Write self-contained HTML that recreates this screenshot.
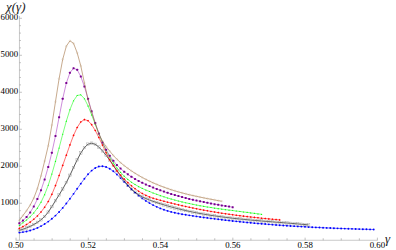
<!DOCTYPE html>
<html><head><meta charset="utf-8"><title>chart</title>
<style>
html,body{margin:0;padding:0;background:#fff;}
body{width:396px;height:250px;overflow:hidden;}
svg{display:block;font-family:"Liberation Serif",serif;}
</style></head><body>
<svg width="396" height="250" viewBox="0 0 396 250">
<rect width="396" height="250" fill="#fff"/>
<g>
<path d="M19.45 16.0V240.25" stroke="#909090" stroke-width="0.5" fill="none"/>
<path d="M15.70 240.25H377.70" stroke="#909090" stroke-width="0.5" fill="none"/>
<path d="M16.00 240.25v-2.6 M34.07 240.25v-2.0 M52.14 240.25v-2.0 M70.21 240.25v-2.0 M88.28 240.25v-2.6 M106.35 240.25v-2.0 M124.42 240.25v-2.0 M142.49 240.25v-2.0 M160.56 240.25v-2.6 M178.63 240.25v-2.0 M196.70 240.25v-2.0 M214.77 240.25v-2.0 M232.84 240.25v-2.6 M250.91 240.25v-2.0 M268.98 240.25v-2.0 M287.05 240.25v-2.0 M305.12 240.25v-2.6 M323.19 240.25v-2.0 M341.26 240.25v-2.0 M359.33 240.25v-2.0 M377.40 240.25v-2.6 M19.45 232.85h1.5 M19.45 225.45h1.5 M19.45 218.05h1.5 M19.45 210.66h1.5 M19.45 203.26h2.5 M19.45 195.86h1.5 M19.45 188.46h1.5 M19.45 181.06h1.5 M19.45 173.66h1.5 M19.45 166.27h2.5 M19.45 158.87h1.5 M19.45 151.47h1.5 M19.45 144.07h1.5 M19.45 136.67h1.5 M19.45 129.27h2.5 M19.45 121.88h1.5 M19.45 114.48h1.5 M19.45 107.08h1.5 M19.45 99.68h1.5 M19.45 92.28h2.5 M19.45 84.88h1.5 M19.45 77.49h1.5 M19.45 70.09h1.5 M19.45 62.69h1.5 M19.45 55.29h2.5 M19.45 47.89h1.5 M19.45 40.49h1.5 M19.45 33.09h1.5 M19.45 25.70h1.5 M19.45 18.30h2.5" stroke="#909090" stroke-width="0.55" fill="none"/>
</g>

<g fill="#000" font-family="'Liberation Serif',serif" font-size="8.8">
<text x="8.30" y="247.90">0.50</text>
<text x="80.58" y="247.90">0.52</text>
<text x="152.86" y="247.90">0.54</text>
<text x="225.14" y="247.90">0.56</text>
<text x="297.42" y="247.90">0.58</text>
<text x="369.70" y="247.90">0.60</text>
<text x="0.50" y="205.36">1000</text>
<text x="0.50" y="168.37">2000</text>
<text x="0.50" y="131.37">3000</text>
<text x="0.50" y="94.38">4000</text>
<text x="0.50" y="57.39">5000</text>
<text x="0.50" y="20.40">6000</text>
</g>
<text x="6" y="10.5" font-family="'Liberation Serif',serif" font-size="13" font-style="italic" fill="#1a1a1a">χ(γ)</text>
<text x="385" y="243" font-family="'Liberation Serif',serif" font-size="13" font-style="italic" fill="#1a1a1a">γ</text>
<polyline fill="none" stroke="#0000ff" stroke-width="0.9" stroke-opacity="0.62" stroke-linejoin="round" points="19.32,232.60 22.94,232.12 26.55,231.44 30.17,230.52 33.78,229.34 37.40,227.88 41.02,226.12 44.63,224.04 48.25,221.60 51.86,218.79 55.48,215.59 59.10,211.96 62.71,207.91 66.33,203.48 69.94,198.77 73.56,193.83 77.18,188.75 80.79,183.64 84.41,178.74 88.02,174.31 91.64,170.62 95.26,167.95 98.87,166.50 102.49,166.23 106.10,167.01 109.72,168.73 113.34,171.25 116.95,174.45 120.57,178.09 124.18,181.91 127.80,185.69 131.42,189.29 135.03,192.61 138.65,195.64 142.26,198.39 145.88,200.88 149.50,203.11 153.11,205.10 156.73,206.85 160.34,208.39 163.96,209.72 167.58,210.88 171.19,211.88 174.81,212.75 178.42,213.51 182.04,214.18 185.66,214.78 189.27,215.35 192.89,215.89 196.50,216.41 200.12,216.93 203.74,217.43 207.35,217.91 210.97,218.39 214.58,218.85 218.20,219.29 221.82,219.73 225.43,220.15 229.05,220.57 232.66,220.97 236.28,221.36 239.90,221.73 243.51,222.10 247.13,222.45 250.74,222.80 254.36,223.13 257.98,223.46 261.59,223.77 265.21,224.07 268.82,224.37 272.44,224.65 276.06,224.93 279.67,225.19 283.29,225.45 286.90,225.70 290.52,225.93 294.14,226.17 297.75,226.39 301.37,226.60 304.98,226.81 308.60,227.01 312.22,227.20 315.83,227.38 319.45,227.56 323.06,227.73 326.68,227.89 330.30,228.05 333.91,228.20 337.53,228.35 341.14,228.49 344.76,228.62 348.38,228.75 351.99,228.87 355.61,228.99 359.22,229.10 362.84,229.21 366.46,229.31 370.07,229.41 373.69,229.50"/>
<g fill="#0000ff"><circle cx="19.32" cy="232.60" r="0.95"/><circle cx="22.94" cy="232.12" r="0.95"/><circle cx="26.55" cy="231.44" r="0.95"/><circle cx="30.17" cy="230.52" r="0.95"/><circle cx="33.78" cy="229.34" r="0.95"/><circle cx="37.40" cy="227.88" r="0.95"/><circle cx="41.02" cy="226.12" r="0.95"/><circle cx="44.63" cy="224.04" r="0.95"/><circle cx="48.25" cy="221.60" r="0.95"/><circle cx="51.86" cy="218.79" r="0.95"/><circle cx="55.48" cy="215.59" r="0.95"/><circle cx="59.10" cy="211.96" r="0.95"/><circle cx="62.71" cy="207.91" r="0.95"/><circle cx="66.33" cy="203.48" r="0.95"/><circle cx="69.94" cy="198.77" r="0.95"/><circle cx="73.56" cy="193.83" r="0.95"/><circle cx="77.18" cy="188.75" r="0.95"/><circle cx="80.79" cy="183.64" r="0.95"/><circle cx="84.41" cy="178.74" r="0.95"/><circle cx="88.02" cy="174.31" r="0.95"/><circle cx="91.64" cy="170.62" r="0.95"/><circle cx="95.26" cy="167.95" r="0.95"/><circle cx="98.87" cy="166.50" r="0.95"/><circle cx="102.49" cy="166.23" r="0.95"/><circle cx="106.10" cy="167.01" r="0.95"/><circle cx="109.72" cy="168.73" r="0.95"/><circle cx="113.34" cy="171.25" r="0.95"/><circle cx="116.95" cy="174.45" r="0.95"/><circle cx="120.57" cy="178.09" r="0.95"/><circle cx="124.18" cy="181.91" r="0.95"/><circle cx="127.80" cy="185.69" r="0.95"/><circle cx="131.42" cy="189.29" r="0.95"/><circle cx="135.03" cy="192.61" r="0.95"/><circle cx="138.65" cy="195.64" r="0.95"/><circle cx="142.26" cy="198.39" r="0.95"/><circle cx="145.88" cy="200.88" r="0.95"/><circle cx="149.50" cy="203.11" r="0.95"/><circle cx="153.11" cy="205.10" r="0.95"/><circle cx="156.73" cy="206.85" r="0.95"/><circle cx="160.34" cy="208.39" r="0.95"/><circle cx="163.96" cy="209.72" r="0.95"/><circle cx="167.58" cy="210.88" r="0.95"/><circle cx="171.19" cy="211.88" r="0.95"/><circle cx="174.81" cy="212.75" r="0.95"/><circle cx="178.42" cy="213.51" r="0.95"/><circle cx="182.04" cy="214.18" r="0.95"/><circle cx="185.66" cy="214.78" r="0.95"/><circle cx="189.27" cy="215.35" r="0.95"/><circle cx="192.89" cy="215.89" r="0.95"/><circle cx="196.50" cy="216.41" r="0.95"/><circle cx="200.12" cy="216.93" r="0.95"/><circle cx="203.74" cy="217.43" r="0.95"/><circle cx="207.35" cy="217.91" r="0.95"/><circle cx="210.97" cy="218.39" r="0.95"/><circle cx="214.58" cy="218.85" r="0.95"/><circle cx="218.20" cy="219.29" r="0.95"/><circle cx="221.82" cy="219.73" r="0.95"/><circle cx="225.43" cy="220.15" r="0.95"/><circle cx="229.05" cy="220.57" r="0.95"/><circle cx="232.66" cy="220.97" r="0.95"/><circle cx="236.28" cy="221.36" r="0.95"/><circle cx="239.90" cy="221.73" r="0.95"/><circle cx="243.51" cy="222.10" r="0.95"/><circle cx="247.13" cy="222.45" r="0.95"/><circle cx="250.74" cy="222.80" r="0.95"/><circle cx="254.36" cy="223.13" r="0.95"/><circle cx="257.98" cy="223.46" r="0.95"/><circle cx="261.59" cy="223.77" r="0.95"/><circle cx="265.21" cy="224.07" r="0.95"/><circle cx="268.82" cy="224.37" r="0.95"/><circle cx="272.44" cy="224.65" r="0.95"/><circle cx="276.06" cy="224.93" r="0.95"/><circle cx="279.67" cy="225.19" r="0.95"/><circle cx="283.29" cy="225.45" r="0.95"/><circle cx="286.90" cy="225.70" r="0.95"/><circle cx="290.52" cy="225.93" r="0.95"/><circle cx="294.14" cy="226.17" r="0.95"/><circle cx="297.75" cy="226.39" r="0.95"/><circle cx="301.37" cy="226.60" r="0.95"/><circle cx="304.98" cy="226.81" r="0.95"/><circle cx="308.60" cy="227.01" r="0.95"/><circle cx="312.22" cy="227.20" r="0.95"/><circle cx="315.83" cy="227.38" r="0.95"/><circle cx="319.45" cy="227.56" r="0.95"/><circle cx="323.06" cy="227.73" r="0.95"/><circle cx="326.68" cy="227.89" r="0.95"/><circle cx="330.30" cy="228.05" r="0.95"/><circle cx="333.91" cy="228.20" r="0.95"/><circle cx="337.53" cy="228.35" r="0.95"/><circle cx="341.14" cy="228.49" r="0.95"/><circle cx="344.76" cy="228.62" r="0.95"/><circle cx="348.38" cy="228.75" r="0.95"/><circle cx="351.99" cy="228.87" r="0.95"/><circle cx="355.61" cy="228.99" r="0.95"/><circle cx="359.22" cy="229.10" r="0.95"/><circle cx="362.84" cy="229.21" r="0.95"/><circle cx="366.46" cy="229.31" r="0.95"/><circle cx="370.07" cy="229.41" r="0.95"/><circle cx="373.69" cy="229.50" r="0.95"/></g>
<polyline fill="none" stroke="#000000" stroke-width="0.9" stroke-opacity="0.72" stroke-linejoin="round" points="19.32,230.31 22.94,229.23 26.55,227.93 30.17,226.36 33.78,224.52 37.40,222.35 41.02,219.78 44.63,216.50 48.25,212.10 51.86,206.61 55.48,200.70 59.10,194.88 62.71,188.93 66.33,182.50 69.94,175.27 73.56,167.49 77.18,159.86 80.79,153.02 84.41,147.58 88.02,144.16 91.64,143.19 95.26,144.32 98.87,147.05 102.49,150.86 106.10,155.31 109.72,160.22 113.34,165.39 116.95,170.66 120.57,175.84 124.18,180.76 127.80,185.25 131.42,189.12 135.03,192.27 138.65,194.80 142.26,196.84 145.88,198.54 149.50,200.02 153.11,201.36 156.73,202.59 160.34,203.76 163.96,204.88 167.58,205.94 171.19,206.96 174.81,207.93 178.42,208.85 182.04,209.73 185.66,210.56 189.27,211.35 192.89,212.10 196.50,212.82 200.12,213.50 203.74,214.14 207.35,214.75 210.97,215.32 214.58,215.87 218.20,216.39 221.82,216.88 225.43,217.35 229.05,217.79 232.66,218.22 236.28,218.62 239.90,219.00 243.51,219.37 247.13,219.72 250.74,220.05 254.36,220.38 257.98,220.69 261.59,221.00 265.21,221.30 268.82,221.59 272.44,221.88 276.06,222.16 279.67,222.45 283.29,222.74 286.90,223.03 290.52,223.32 294.14,223.62 297.75,223.93 301.37,224.25 304.98,224.58 308.60,224.92"/>
<g fill="none" stroke="#909090" stroke-opacity="0.9" stroke-width="0.4"><rect x="18.07" y="229.06" width="2.5" height="2.5"/><rect x="21.69" y="227.98" width="2.5" height="2.5"/><rect x="25.30" y="226.68" width="2.5" height="2.5"/><rect x="28.92" y="225.11" width="2.5" height="2.5"/><rect x="32.53" y="223.27" width="2.5" height="2.5"/><rect x="36.15" y="221.10" width="2.5" height="2.5"/><rect x="39.77" y="218.53" width="2.5" height="2.5"/><rect x="43.38" y="215.25" width="2.5" height="2.5"/><rect x="47.00" y="210.85" width="2.5" height="2.5"/><rect x="50.61" y="205.36" width="2.5" height="2.5"/><rect x="54.23" y="199.45" width="2.5" height="2.5"/><rect x="57.85" y="193.63" width="2.5" height="2.5"/><rect x="61.46" y="187.68" width="2.5" height="2.5"/><rect x="65.08" y="181.25" width="2.5" height="2.5"/><rect x="68.69" y="174.02" width="2.5" height="2.5"/><rect x="72.31" y="166.24" width="2.5" height="2.5"/><rect x="75.93" y="158.61" width="2.5" height="2.5"/><rect x="79.54" y="151.77" width="2.5" height="2.5"/><rect x="83.16" y="146.33" width="2.5" height="2.5"/><rect x="86.77" y="142.91" width="2.5" height="2.5"/><rect x="90.39" y="141.94" width="2.5" height="2.5"/><rect x="94.01" y="143.07" width="2.5" height="2.5"/><rect x="97.62" y="145.80" width="2.5" height="2.5"/><rect x="101.24" y="149.61" width="2.5" height="2.5"/><rect x="104.85" y="154.06" width="2.5" height="2.5"/><rect x="108.47" y="158.97" width="2.5" height="2.5"/><rect x="112.09" y="164.14" width="2.5" height="2.5"/><rect x="115.70" y="169.41" width="2.5" height="2.5"/><rect x="119.32" y="174.59" width="2.5" height="2.5"/><rect x="122.93" y="179.51" width="2.5" height="2.5"/><rect x="126.55" y="184.00" width="2.5" height="2.5"/><rect x="130.17" y="187.87" width="2.5" height="2.5"/><rect x="133.78" y="191.02" width="2.5" height="2.5"/><rect x="137.40" y="193.55" width="2.5" height="2.5"/><rect x="141.01" y="195.59" width="2.5" height="2.5"/><rect x="144.63" y="197.29" width="2.5" height="2.5"/><rect x="148.25" y="198.77" width="2.5" height="2.5"/><rect x="151.86" y="200.11" width="2.5" height="2.5"/><rect x="155.48" y="201.34" width="2.5" height="2.5"/><rect x="159.09" y="202.51" width="2.5" height="2.5"/><rect x="162.71" y="203.63" width="2.5" height="2.5"/><rect x="166.33" y="204.69" width="2.5" height="2.5"/><rect x="169.94" y="205.71" width="2.5" height="2.5"/><rect x="173.56" y="206.68" width="2.5" height="2.5"/><rect x="177.17" y="207.60" width="2.5" height="2.5"/><rect x="180.79" y="208.48" width="2.5" height="2.5"/><rect x="184.41" y="209.31" width="2.5" height="2.5"/><rect x="188.02" y="210.10" width="2.5" height="2.5"/><rect x="191.64" y="210.85" width="2.5" height="2.5"/><rect x="195.25" y="211.57" width="2.5" height="2.5"/><rect x="198.87" y="212.25" width="2.5" height="2.5"/><rect x="202.49" y="212.89" width="2.5" height="2.5"/><rect x="206.10" y="213.50" width="2.5" height="2.5"/><rect x="209.72" y="214.07" width="2.5" height="2.5"/><rect x="213.33" y="214.62" width="2.5" height="2.5"/><rect x="216.95" y="215.14" width="2.5" height="2.5"/><rect x="220.57" y="215.63" width="2.5" height="2.5"/><rect x="224.18" y="216.10" width="2.5" height="2.5"/><rect x="227.80" y="216.54" width="2.5" height="2.5"/><rect x="231.41" y="216.97" width="2.5" height="2.5"/><rect x="235.03" y="217.37" width="2.5" height="2.5"/><rect x="238.65" y="217.75" width="2.5" height="2.5"/><rect x="242.26" y="218.12" width="2.5" height="2.5"/><rect x="245.88" y="218.47" width="2.5" height="2.5"/><rect x="249.49" y="218.80" width="2.5" height="2.5"/><rect x="253.11" y="219.13" width="2.5" height="2.5"/><rect x="256.73" y="219.44" width="2.5" height="2.5"/><rect x="260.34" y="219.75" width="2.5" height="2.5"/><rect x="263.96" y="220.05" width="2.5" height="2.5"/><rect x="267.57" y="220.34" width="2.5" height="2.5"/><rect x="271.19" y="220.63" width="2.5" height="2.5"/><rect x="274.81" y="220.91" width="2.5" height="2.5"/><rect x="278.42" y="221.20" width="2.5" height="2.5"/><rect x="282.04" y="221.49" width="2.5" height="2.5"/><rect x="285.65" y="221.78" width="2.5" height="2.5"/><rect x="289.27" y="222.07" width="2.5" height="2.5"/><rect x="292.89" y="222.37" width="2.5" height="2.5"/><rect x="296.50" y="222.68" width="2.5" height="2.5"/><rect x="300.12" y="223.00" width="2.5" height="2.5"/><rect x="303.73" y="223.33" width="2.5" height="2.5"/><rect x="307.35" y="223.67" width="2.5" height="2.5"/></g>
<polyline fill="none" stroke="#ff0000" stroke-width="0.9" stroke-opacity="0.62" stroke-linejoin="round" points="19.32,228.41 22.94,226.61 26.55,224.54 30.17,222.12 33.78,219.28 37.40,215.93 41.02,211.98 44.63,207.27 48.25,201.51 51.86,194.37 55.48,185.59 59.10,175.57 62.71,165.38 66.33,155.14 69.94,144.90 73.56,135.37 77.18,127.44 80.79,121.96 84.41,119.60 88.02,120.73 91.64,124.67 95.26,130.49 98.87,137.50 102.49,145.12 106.10,152.75 109.72,159.80 113.34,165.82 116.95,170.90 120.57,175.25 124.18,179.08 127.80,182.59 131.42,185.79 135.03,188.68 138.65,191.25 142.26,193.49 145.88,195.39 149.50,196.94 153.11,198.22 156.73,199.31 160.34,200.30 163.96,201.25 167.58,202.18 171.19,203.09 174.81,203.97 178.42,204.83 182.04,205.67 185.66,206.48 189.27,207.26 192.89,208.02 196.50,208.75 200.12,209.46 203.74,210.14 207.35,210.80 210.97,211.43 214.58,212.04 218.20,212.62 221.82,213.19 225.43,213.73 229.05,214.26 232.66,214.76 236.28,215.25 239.90,215.71 243.51,216.17 247.13,216.60 250.74,217.02 254.36,217.42 257.98,217.81 261.59,218.19 265.21,218.55 268.82,218.90 272.44,219.24 276.06,219.57 279.67,219.89"/>
<g fill="#ff0000"><path d="M19.32 227.36L20.37 228.41L19.32 229.46L18.27 228.41Z"/><path d="M22.94 225.56L23.99 226.61L22.94 227.66L21.89 226.61Z"/><path d="M26.55 223.49L27.60 224.54L26.55 225.59L25.50 224.54Z"/><path d="M30.17 221.07L31.22 222.12L30.17 223.17L29.12 222.12Z"/><path d="M33.78 218.23L34.83 219.28L33.78 220.33L32.73 219.28Z"/><path d="M37.40 214.88L38.45 215.93L37.40 216.98L36.35 215.93Z"/><path d="M41.02 210.93L42.07 211.98L41.02 213.03L39.97 211.98Z"/><path d="M44.63 206.22L45.68 207.27L44.63 208.32L43.58 207.27Z"/><path d="M48.25 200.46L49.30 201.51L48.25 202.56L47.20 201.51Z"/><path d="M51.86 193.32L52.91 194.37L51.86 195.42L50.81 194.37Z"/><path d="M55.48 184.54L56.53 185.59L55.48 186.64L54.43 185.59Z"/><path d="M59.10 174.52L60.15 175.57L59.10 176.62L58.05 175.57Z"/><path d="M62.71 164.33L63.76 165.38L62.71 166.43L61.66 165.38Z"/><path d="M66.33 154.09L67.38 155.14L66.33 156.19L65.28 155.14Z"/><path d="M69.94 143.85L70.99 144.90L69.94 145.95L68.89 144.90Z"/><path d="M73.56 134.32L74.61 135.37L73.56 136.42L72.51 135.37Z"/><path d="M77.18 126.39L78.23 127.44L77.18 128.49L76.13 127.44Z"/><path d="M80.79 120.91L81.84 121.96L80.79 123.01L79.74 121.96Z"/><path d="M84.41 118.55L85.46 119.60L84.41 120.65L83.36 119.60Z"/><path d="M88.02 119.68L89.07 120.73L88.02 121.78L86.97 120.73Z"/><path d="M91.64 123.62L92.69 124.67L91.64 125.72L90.59 124.67Z"/><path d="M95.26 129.44L96.31 130.49L95.26 131.54L94.21 130.49Z"/><path d="M98.87 136.45L99.92 137.50L98.87 138.55L97.82 137.50Z"/><path d="M102.49 144.07L103.54 145.12L102.49 146.17L101.44 145.12Z"/><path d="M106.10 151.70L107.15 152.75L106.10 153.80L105.05 152.75Z"/><path d="M109.72 158.75L110.77 159.80L109.72 160.85L108.67 159.80Z"/><path d="M113.34 164.77L114.39 165.82L113.34 166.87L112.29 165.82Z"/><path d="M116.95 169.85L118.00 170.90L116.95 171.95L115.90 170.90Z"/><path d="M120.57 174.20L121.62 175.25L120.57 176.30L119.52 175.25Z"/><path d="M124.18 178.03L125.23 179.08L124.18 180.13L123.13 179.08Z"/><path d="M127.80 181.54L128.85 182.59L127.80 183.64L126.75 182.59Z"/><path d="M131.42 184.74L132.47 185.79L131.42 186.84L130.37 185.79Z"/><path d="M135.03 187.63L136.08 188.68L135.03 189.73L133.98 188.68Z"/><path d="M138.65 190.20L139.70 191.25L138.65 192.30L137.60 191.25Z"/><path d="M142.26 192.44L143.31 193.49L142.26 194.54L141.21 193.49Z"/><path d="M145.88 194.34L146.93 195.39L145.88 196.44L144.83 195.39Z"/><path d="M149.50 195.89L150.55 196.94L149.50 197.99L148.45 196.94Z"/><path d="M153.11 197.17L154.16 198.22L153.11 199.27L152.06 198.22Z"/><path d="M156.73 198.26L157.78 199.31L156.73 200.36L155.68 199.31Z"/><path d="M160.34 199.25L161.39 200.30L160.34 201.35L159.29 200.30Z"/><path d="M163.96 200.20L165.01 201.25L163.96 202.30L162.91 201.25Z"/><path d="M167.58 201.13L168.63 202.18L167.58 203.23L166.53 202.18Z"/><path d="M171.19 202.04L172.24 203.09L171.19 204.14L170.14 203.09Z"/><path d="M174.81 202.92L175.86 203.97L174.81 205.02L173.76 203.97Z"/><path d="M178.42 203.78L179.47 204.83L178.42 205.88L177.37 204.83Z"/><path d="M182.04 204.62L183.09 205.67L182.04 206.72L180.99 205.67Z"/><path d="M185.66 205.43L186.71 206.48L185.66 207.53L184.61 206.48Z"/><path d="M189.27 206.21L190.32 207.26L189.27 208.31L188.22 207.26Z"/><path d="M192.89 206.97L193.94 208.02L192.89 209.07L191.84 208.02Z"/><path d="M196.50 207.70L197.55 208.75L196.50 209.80L195.45 208.75Z"/><path d="M200.12 208.41L201.17 209.46L200.12 210.51L199.07 209.46Z"/><path d="M203.74 209.09L204.79 210.14L203.74 211.19L202.69 210.14Z"/><path d="M207.35 209.75L208.40 210.80L207.35 211.85L206.30 210.80Z"/><path d="M210.97 210.38L212.02 211.43L210.97 212.48L209.92 211.43Z"/><path d="M214.58 210.99L215.63 212.04L214.58 213.09L213.53 212.04Z"/><path d="M218.20 211.57L219.25 212.62L218.20 213.67L217.15 212.62Z"/><path d="M221.82 212.14L222.87 213.19L221.82 214.24L220.77 213.19Z"/><path d="M225.43 212.68L226.48 213.73L225.43 214.78L224.38 213.73Z"/><path d="M229.05 213.21L230.10 214.26L229.05 215.31L228.00 214.26Z"/><path d="M232.66 213.71L233.71 214.76L232.66 215.81L231.61 214.76Z"/><path d="M236.28 214.20L237.33 215.25L236.28 216.30L235.23 215.25Z"/><path d="M239.90 214.66L240.95 215.71L239.90 216.76L238.85 215.71Z"/><path d="M243.51 215.12L244.56 216.17L243.51 217.22L242.46 216.17Z"/><path d="M247.13 215.55L248.18 216.60L247.13 217.65L246.08 216.60Z"/><path d="M250.74 215.97L251.79 217.02L250.74 218.07L249.69 217.02Z"/><path d="M254.36 216.37L255.41 217.42L254.36 218.47L253.31 217.42Z"/><path d="M257.98 216.76L259.03 217.81L257.98 218.86L256.93 217.81Z"/><path d="M261.59 217.14L262.64 218.19L261.59 219.24L260.54 218.19Z"/><path d="M265.21 217.50L266.26 218.55L265.21 219.60L264.16 218.55Z"/><path d="M268.82 217.85L269.87 218.90L268.82 219.95L267.77 218.90Z"/><path d="M272.44 218.19L273.49 219.24L272.44 220.29L271.39 219.24Z"/><path d="M276.06 218.52L277.11 219.57L276.06 220.62L275.01 219.57Z"/><path d="M279.67 218.84L280.72 219.89L279.67 220.94L278.62 219.89Z"/></g>
<polyline fill="none" stroke="#00ff00" stroke-width="0.9" stroke-opacity="0.58" stroke-linejoin="round" points="19.32,225.51 22.94,222.78 26.55,219.93 30.17,216.72 33.78,212.88 37.40,208.12 41.02,202.14 44.63,194.61 48.25,185.19 51.86,173.96 55.48,161.38 59.10,147.94 62.71,134.22 66.33,121.12 69.94,109.64 73.56,100.77 77.18,95.50 80.79,94.81 84.41,98.70 88.02,105.85 91.64,114.85 95.26,124.38 98.87,133.75 102.49,142.55 106.10,150.37 109.72,157.06 113.34,162.86 116.95,167.93 120.57,172.35 124.18,176.16 127.80,179.42 131.42,182.19 135.03,184.55 138.65,186.58 142.26,188.37 145.88,190.00 149.50,191.53 153.11,192.96 156.73,194.31 160.34,195.59 163.96,196.80 167.58,197.94 171.19,199.01 174.81,200.03 178.42,200.99 182.04,201.89 185.66,202.74 189.27,203.54 192.89,204.30 196.50,205.01 200.12,205.69 203.74,206.33 207.35,206.94 210.97,207.52 214.58,208.07 218.20,208.60 221.82,209.11 225.43,209.60 229.05,210.08 232.66,210.55 236.28,211.01 239.90,211.47 243.51,211.93 247.13,212.39 250.74,212.86 254.36,213.33 257.98,213.82 261.59,214.32"/>
<g fill="#00ff00"><path d="M19.32 224.71L20.12 226.07L18.52 226.07Z"/><path d="M22.94 221.98L23.74 223.34L22.14 223.34Z"/><path d="M26.55 219.13L27.35 220.49L25.75 220.49Z"/><path d="M30.17 215.92L30.97 217.28L29.37 217.28Z"/><path d="M33.78 212.08L34.58 213.44L32.98 213.44Z"/><path d="M37.40 207.32L38.20 208.68L36.60 208.68Z"/><path d="M41.02 201.34L41.82 202.70L40.22 202.70Z"/><path d="M44.63 193.81L45.43 195.17L43.83 195.17Z"/><path d="M48.25 184.39L49.05 185.75L47.45 185.75Z"/><path d="M51.86 173.16L52.66 174.52L51.06 174.52Z"/><path d="M55.48 160.58L56.28 161.94L54.68 161.94Z"/><path d="M59.10 147.14L59.90 148.50L58.30 148.50Z"/><path d="M62.71 133.42L63.51 134.78L61.91 134.78Z"/><path d="M66.33 120.32L67.13 121.68L65.53 121.68Z"/><path d="M69.94 108.84L70.74 110.20L69.14 110.20Z"/><path d="M73.56 99.97L74.36 101.33L72.76 101.33Z"/><path d="M77.18 94.70L77.98 96.06L76.38 96.06Z"/><path d="M80.79 94.01L81.59 95.37L79.99 95.37Z"/><path d="M84.41 97.90L85.21 99.26L83.61 99.26Z"/><path d="M88.02 105.05L88.82 106.41L87.22 106.41Z"/><path d="M91.64 114.05L92.44 115.41L90.84 115.41Z"/><path d="M95.26 123.58L96.06 124.94L94.46 124.94Z"/><path d="M98.87 132.95L99.67 134.31L98.07 134.31Z"/><path d="M102.49 141.75L103.29 143.11L101.69 143.11Z"/><path d="M106.10 149.57L106.90 150.93L105.30 150.93Z"/><path d="M109.72 156.26L110.52 157.62L108.92 157.62Z"/><path d="M113.34 162.06L114.14 163.42L112.54 163.42Z"/><path d="M116.95 167.13L117.75 168.49L116.15 168.49Z"/><path d="M120.57 171.55L121.37 172.91L119.77 172.91Z"/><path d="M124.18 175.36L124.98 176.72L123.38 176.72Z"/><path d="M127.80 178.62L128.60 179.98L127.00 179.98Z"/><path d="M131.42 181.39L132.22 182.75L130.62 182.75Z"/><path d="M135.03 183.75L135.83 185.11L134.23 185.11Z"/><path d="M138.65 185.78L139.45 187.14L137.85 187.14Z"/><path d="M142.26 187.57L143.06 188.93L141.46 188.93Z"/><path d="M145.88 189.20L146.68 190.56L145.08 190.56Z"/><path d="M149.50 190.73L150.30 192.09L148.70 192.09Z"/><path d="M153.11 192.16L153.91 193.52L152.31 193.52Z"/><path d="M156.73 193.51L157.53 194.87L155.93 194.87Z"/><path d="M160.34 194.79L161.14 196.15L159.54 196.15Z"/><path d="M163.96 196.00L164.76 197.36L163.16 197.36Z"/><path d="M167.58 197.14L168.38 198.50L166.78 198.50Z"/><path d="M171.19 198.21L171.99 199.57L170.39 199.57Z"/><path d="M174.81 199.23L175.61 200.59L174.01 200.59Z"/><path d="M178.42 200.19L179.22 201.55L177.62 201.55Z"/><path d="M182.04 201.09L182.84 202.45L181.24 202.45Z"/><path d="M185.66 201.94L186.46 203.30L184.86 203.30Z"/><path d="M189.27 202.74L190.07 204.10L188.47 204.10Z"/><path d="M192.89 203.50L193.69 204.86L192.09 204.86Z"/><path d="M196.50 204.21L197.30 205.57L195.70 205.57Z"/><path d="M200.12 204.89L200.92 206.25L199.32 206.25Z"/><path d="M203.74 205.53L204.54 206.89L202.94 206.89Z"/><path d="M207.35 206.14L208.15 207.50L206.55 207.50Z"/><path d="M210.97 206.72L211.77 208.08L210.17 208.08Z"/><path d="M214.58 207.27L215.38 208.63L213.78 208.63Z"/><path d="M218.20 207.80L219.00 209.16L217.40 209.16Z"/><path d="M221.82 208.31L222.62 209.67L221.02 209.67Z"/><path d="M225.43 208.80L226.23 210.16L224.63 210.16Z"/><path d="M229.05 209.28L229.85 210.64L228.25 210.64Z"/><path d="M232.66 209.75L233.46 211.11L231.86 211.11Z"/><path d="M236.28 210.21L237.08 211.57L235.48 211.57Z"/><path d="M239.90 210.67L240.70 212.03L239.10 212.03Z"/><path d="M243.51 211.13L244.31 212.49L242.71 212.49Z"/><path d="M247.13 211.59L247.93 212.95L246.33 212.95Z"/><path d="M250.74 212.06L251.54 213.42L249.94 213.42Z"/><path d="M254.36 212.53L255.16 213.89L253.56 213.89Z"/><path d="M257.98 213.02L258.78 214.38L257.18 214.38Z"/><path d="M261.59 213.52L262.39 214.88L260.79 214.88Z"/></g>
<polyline fill="none" stroke="#9000b0" stroke-width="0.9" stroke-opacity="0.5" stroke-linejoin="round" points="19.32,223.19 22.94,220.61 26.55,217.06 30.17,212.41 33.78,206.48 37.40,199.12 41.02,190.14 44.63,179.47 48.25,167.00 51.86,152.63 55.48,136.00 59.10,117.26 62.71,98.69 66.33,83.08 69.94,72.67 73.56,68.19 77.18,69.82 80.79,76.47 84.41,86.62 88.02,98.74 91.64,111.33 95.26,123.05 98.87,133.47 102.49,142.40 106.10,149.72 109.72,155.72 113.34,160.76 116.95,165.00 120.57,168.59 124.18,171.67 127.80,174.35 131.42,176.78 135.03,178.98 138.65,180.99 142.26,182.84 145.88,184.54 149.50,186.12 153.11,187.60 156.73,189.01 160.34,190.35 163.96,191.62 167.58,192.83 171.19,193.97 174.81,195.06 178.42,196.10 182.04,197.08 185.66,198.02 189.27,198.91 192.89,199.76 196.50,200.57 200.12,201.34 203.74,202.08 207.35,202.79 210.97,203.48 214.58,204.13 218.20,204.77 221.82,205.39 225.43,205.99 229.05,206.58 232.66,207.17"/>
<g fill="#780090"><rect x="18.32" y="222.19" width="2.0" height="2.0" rx="0.5"/><rect x="21.94" y="219.61" width="2.0" height="2.0" rx="0.5"/><rect x="25.55" y="216.06" width="2.0" height="2.0" rx="0.5"/><rect x="29.17" y="211.41" width="2.0" height="2.0" rx="0.5"/><rect x="32.78" y="205.48" width="2.0" height="2.0" rx="0.5"/><rect x="36.40" y="198.12" width="2.0" height="2.0" rx="0.5"/><rect x="40.02" y="189.14" width="2.0" height="2.0" rx="0.5"/><rect x="43.63" y="178.47" width="2.0" height="2.0" rx="0.5"/><rect x="47.25" y="166.00" width="2.0" height="2.0" rx="0.5"/><rect x="50.86" y="151.63" width="2.0" height="2.0" rx="0.5"/><rect x="54.48" y="135.00" width="2.0" height="2.0" rx="0.5"/><rect x="58.10" y="116.26" width="2.0" height="2.0" rx="0.5"/><rect x="61.71" y="97.69" width="2.0" height="2.0" rx="0.5"/><rect x="65.33" y="82.08" width="2.0" height="2.0" rx="0.5"/><rect x="68.94" y="71.67" width="2.0" height="2.0" rx="0.5"/><rect x="72.56" y="67.19" width="2.0" height="2.0" rx="0.5"/><rect x="76.18" y="68.82" width="2.0" height="2.0" rx="0.5"/><rect x="79.79" y="75.47" width="2.0" height="2.0" rx="0.5"/><rect x="83.41" y="85.62" width="2.0" height="2.0" rx="0.5"/><rect x="87.02" y="97.74" width="2.0" height="2.0" rx="0.5"/><rect x="90.64" y="110.33" width="2.0" height="2.0" rx="0.5"/><rect x="94.26" y="122.05" width="2.0" height="2.0" rx="0.5"/><rect x="97.87" y="132.47" width="2.0" height="2.0" rx="0.5"/><rect x="101.49" y="141.40" width="2.0" height="2.0" rx="0.5"/><rect x="105.10" y="148.72" width="2.0" height="2.0" rx="0.5"/><rect x="108.72" y="154.72" width="2.0" height="2.0" rx="0.5"/><rect x="112.34" y="159.76" width="2.0" height="2.0" rx="0.5"/><rect x="115.95" y="164.00" width="2.0" height="2.0" rx="0.5"/><rect x="119.57" y="167.59" width="2.0" height="2.0" rx="0.5"/><rect x="123.18" y="170.67" width="2.0" height="2.0" rx="0.5"/><rect x="126.80" y="173.35" width="2.0" height="2.0" rx="0.5"/><rect x="130.42" y="175.78" width="2.0" height="2.0" rx="0.5"/><rect x="134.03" y="177.98" width="2.0" height="2.0" rx="0.5"/><rect x="137.65" y="179.99" width="2.0" height="2.0" rx="0.5"/><rect x="141.26" y="181.84" width="2.0" height="2.0" rx="0.5"/><rect x="144.88" y="183.54" width="2.0" height="2.0" rx="0.5"/><rect x="148.50" y="185.12" width="2.0" height="2.0" rx="0.5"/><rect x="152.11" y="186.60" width="2.0" height="2.0" rx="0.5"/><rect x="155.73" y="188.01" width="2.0" height="2.0" rx="0.5"/><rect x="159.34" y="189.35" width="2.0" height="2.0" rx="0.5"/><rect x="162.96" y="190.62" width="2.0" height="2.0" rx="0.5"/><rect x="166.58" y="191.83" width="2.0" height="2.0" rx="0.5"/><rect x="170.19" y="192.97" width="2.0" height="2.0" rx="0.5"/><rect x="173.81" y="194.06" width="2.0" height="2.0" rx="0.5"/><rect x="177.42" y="195.10" width="2.0" height="2.0" rx="0.5"/><rect x="181.04" y="196.08" width="2.0" height="2.0" rx="0.5"/><rect x="184.66" y="197.02" width="2.0" height="2.0" rx="0.5"/><rect x="188.27" y="197.91" width="2.0" height="2.0" rx="0.5"/><rect x="191.89" y="198.76" width="2.0" height="2.0" rx="0.5"/><rect x="195.50" y="199.57" width="2.0" height="2.0" rx="0.5"/><rect x="199.12" y="200.34" width="2.0" height="2.0" rx="0.5"/><rect x="202.74" y="201.08" width="2.0" height="2.0" rx="0.5"/><rect x="206.35" y="201.79" width="2.0" height="2.0" rx="0.5"/><rect x="209.97" y="202.48" width="2.0" height="2.0" rx="0.5"/><rect x="213.58" y="203.13" width="2.0" height="2.0" rx="0.5"/><rect x="217.20" y="203.77" width="2.0" height="2.0" rx="0.5"/><rect x="220.82" y="204.39" width="2.0" height="2.0" rx="0.5"/><rect x="224.43" y="204.99" width="2.0" height="2.0" rx="0.5"/><rect x="228.05" y="205.58" width="2.0" height="2.0" rx="0.5"/><rect x="231.66" y="206.17" width="2.0" height="2.0" rx="0.5"/></g>
<polyline fill="none" stroke="#996633" stroke-width="0.9" stroke-opacity="0.62" stroke-linejoin="round" points="19.32,220.54 22.94,215.49 26.55,210.65 30.17,205.18 33.78,198.13 37.40,188.61 41.02,175.79 44.63,161.14 48.25,145.67 51.86,125.13 55.48,101.68 59.10,78.66 62.71,59.38 66.33,46.20 69.94,40.81 73.56,43.39 77.18,52.81 80.79,65.86 84.41,83.00 88.02,99.68 91.64,112.21 95.26,123.49 98.87,133.77 102.49,141.35 106.10,146.52 109.72,151.16 113.34,155.48 116.95,159.30 120.57,162.63 124.18,165.60 127.80,168.34 131.42,170.88 135.03,173.25 138.65,175.45 142.26,177.49 145.88,179.39 149.50,181.17 153.11,182.83 156.73,184.38 160.34,185.84 163.96,187.21 167.58,188.50 171.19,189.70 174.81,190.83 178.42,191.89 182.04,192.89 185.66,193.83 189.27,194.72 192.89,195.56 196.50,196.37 200.12,197.13 203.74,197.87 207.35,198.58 210.97,199.27 214.58,199.95 218.20,200.62 221.82,201.28"/>
<g fill="none" stroke="#b08860" stroke-opacity="0.55" stroke-width="0.3"><circle cx="19.32" cy="220.54" r="0.9"/><circle cx="22.94" cy="215.49" r="0.9"/><circle cx="26.55" cy="210.65" r="0.9"/><circle cx="30.17" cy="205.18" r="0.9"/><circle cx="33.78" cy="198.13" r="0.9"/><circle cx="37.40" cy="188.61" r="0.9"/><circle cx="41.02" cy="175.79" r="0.9"/><circle cx="44.63" cy="161.14" r="0.9"/><circle cx="48.25" cy="145.67" r="0.9"/><circle cx="51.86" cy="125.13" r="0.9"/><circle cx="55.48" cy="101.68" r="0.9"/><circle cx="59.10" cy="78.66" r="0.9"/><circle cx="62.71" cy="59.38" r="0.9"/><circle cx="66.33" cy="46.20" r="0.9"/><circle cx="69.94" cy="40.81" r="0.9"/><circle cx="73.56" cy="43.39" r="0.9"/><circle cx="77.18" cy="52.81" r="0.9"/><circle cx="80.79" cy="65.86" r="0.9"/><circle cx="84.41" cy="83.00" r="0.9"/><circle cx="88.02" cy="99.68" r="0.9"/><circle cx="91.64" cy="112.21" r="0.9"/><circle cx="95.26" cy="123.49" r="0.9"/><circle cx="98.87" cy="133.77" r="0.9"/><circle cx="102.49" cy="141.35" r="0.9"/><circle cx="106.10" cy="146.52" r="0.9"/><circle cx="109.72" cy="151.16" r="0.9"/><circle cx="113.34" cy="155.48" r="0.9"/><circle cx="116.95" cy="159.30" r="0.9"/><circle cx="120.57" cy="162.63" r="0.9"/><circle cx="124.18" cy="165.60" r="0.9"/><circle cx="127.80" cy="168.34" r="0.9"/><circle cx="131.42" cy="170.88" r="0.9"/><circle cx="135.03" cy="173.25" r="0.9"/><circle cx="138.65" cy="175.45" r="0.9"/><circle cx="142.26" cy="177.49" r="0.9"/><circle cx="145.88" cy="179.39" r="0.9"/><circle cx="149.50" cy="181.17" r="0.9"/><circle cx="153.11" cy="182.83" r="0.9"/><circle cx="156.73" cy="184.38" r="0.9"/><circle cx="160.34" cy="185.84" r="0.9"/><circle cx="163.96" cy="187.21" r="0.9"/><circle cx="167.58" cy="188.50" r="0.9"/><circle cx="171.19" cy="189.70" r="0.9"/><circle cx="174.81" cy="190.83" r="0.9"/><circle cx="178.42" cy="191.89" r="0.9"/><circle cx="182.04" cy="192.89" r="0.9"/><circle cx="185.66" cy="193.83" r="0.9"/><circle cx="189.27" cy="194.72" r="0.9"/><circle cx="192.89" cy="195.56" r="0.9"/><circle cx="196.50" cy="196.37" r="0.9"/><circle cx="200.12" cy="197.13" r="0.9"/><circle cx="203.74" cy="197.87" r="0.9"/><circle cx="207.35" cy="198.58" r="0.9"/><circle cx="210.97" cy="199.27" r="0.9"/><circle cx="214.58" cy="199.95" r="0.9"/><circle cx="218.20" cy="200.62" r="0.9"/><circle cx="221.82" cy="201.28" r="0.9"/></g>
</svg>
</body></html>
